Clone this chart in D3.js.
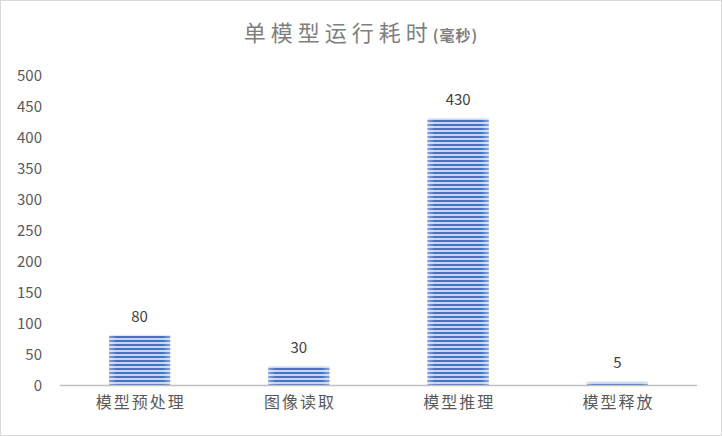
<!DOCTYPE html>
<html><head><meta charset="utf-8">
<script src="https://cdn.jsdelivr.net/npm/d3@7"></script>
<style>body{margin:0;background:#fff}svg{display:block}</style>
</head><body><div id="c"></div>
<script>
const categories = ["模型预处理", "图像读取", "模型推理", "模型释放"];
const values = [80, 30, 430, 5];
const yTicks = [0, 50, 100, 150, 200, 250, 300, 350, 400, 450, 500];
const titleMain = "单模型运行耗时";
const titleUnit = "(毫秒)";

const W = 722, H = 436;
const m = {left: 60, right: 25, top: 75, bottom: 51};
const svg = d3.select("#c").append("svg").attr("width", W).attr("height", H);
const font = "'Noto Sans CJK SC', 'Noto Sans', sans-serif";

svg.append("rect").attr("x", 0.5).attr("y", 0.5).attr("width", W - 1).attr("height", H - 1)
  .attr("fill", "#fff").attr("stroke", "#d9d9d9").attr("stroke-width", 1);

const defs = svg.append("defs");
const pat = defs.append("pattern").attr("id", "stripes").attr("patternUnits", "userSpaceOnUse")
  .attr("width", 8).attr("height", 4);
pat.append("rect").attr("width", 8).attr("height", 4).attr("fill", "#c9d6ef");
pat.append("rect").attr("y", 0).attr("width", 8).attr("height", 2).attr("fill", "#4a72c4");
const grad = defs.append("linearGradient").attr("id", "edge").attr("x1", 0).attr("x2", 1);
grad.append("stop").attr("offset", 0).attr("stop-color", "#fff").attr("stop-opacity", 0.35);
grad.append("stop").attr("offset", 0.12).attr("stop-color", "#fff").attr("stop-opacity", 0);
grad.append("stop").attr("offset", 0.88).attr("stop-color", "#fff").attr("stop-opacity", 0);
grad.append("stop").attr("offset", 1).attr("stop-color", "#fff").attr("stop-opacity", 0.35);

const x = d3.scaleBand().domain(categories).range([m.left, W - m.right]).paddingInner(1.6/2.6).paddingOuter(0.8/2.6);
const y = d3.scaleLinear().domain([0, 500]).range([H - m.bottom, m.top]);

// y axis labels
const yAxis = d3.axisLeft(y).tickValues(yTicks).tickSize(0).tickPadding(0);
const gy = svg.append("g").attr("transform", "translate(42,0)").call(yAxis);
gy.select(".domain").remove();
gy.selectAll("text").attr("font-family", font).attr("font-size", 15).attr("fill", "#595959").attr("dy", "0.35em");

// bars
const bars = svg.append("g").selectAll("g").data(categories).join("g");
bars.append("rect")
  .attr("x", d => x(d)).attr("width", x.bandwidth())
  .attr("y", (d, i) => y(values[i])).attr("height", (d, i) => y(0) - y(values[i]))
  .attr("fill", "url(#stripes)");
bars.append("rect")
  .attr("x", d => x(d)).attr("width", x.bandwidth())
  .attr("y", (d, i) => y(values[i])).attr("height", (d, i) => y(0) - y(values[i]))
  .attr("fill", "url(#edge)");

// x axis
const xAxis = d3.axisBottom(x).tickSize(0).tickPadding(17);
const gx = svg.append("g").attr("transform", `translate(0,${y(0)})`).call(xAxis);
gx.select(".domain").attr("stroke", "#bfbfbf").attr("stroke-width", 1.5)
  .attr("d", `M${m.left},0.5H${W - m.right}`);
gx.selectAll("text").attr("font-family", font).attr("font-size", 16).attr("fill", "#595959").attr("dy", "0.35em")
  .attr("letter-spacing", 2).attr("dx", 1);

// data labels
svg.append("g").selectAll("text").data(categories).join("text")
  .attr("x", d => x(d) + x.bandwidth() / 2)
  .attr("y", (d, i) => y(values[i]) - 19)
  .attr("text-anchor", "middle").attr("dy", "0.35em")
  .attr("font-family", font).attr("font-size", 15).attr("fill", "#404040")
  .text((d, i) => values[i]);

// title
const t = svg.append("text").attr("x", W / 2).attr("y", 35).attr("text-anchor", "middle").attr("dy", "0.35em")
  .attr("font-family", font).attr("fill", "#7f7f7f");
t.append("tspan").attr("font-size", 22).attr("letter-spacing", 5).text(titleMain);
t.append("tspan").attr("font-size", 15).attr("font-weight", "bold").attr("letter-spacing", 1).text(titleUnit);
</script></body></html>
